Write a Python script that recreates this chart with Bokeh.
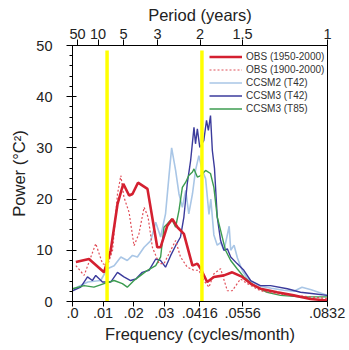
from bokeh.plotting import figure
from bokeh.models import (Range1d, LinearAxis, FixedTicker, SingleIntervalTicker,
                          Legend, LegendItem)
from bokeh.embed import file_html
from bokeh.resources import INLINE

# ---- data ----
obs1950_f = [0.0011, 0.0054, 0.0103, 0.0125, 0.0147, 0.0166, 0.0185, 0.0196, 0.0214, 0.0245,
             0.0277, 0.0288, 0.0310, 0.0326, 0.0343, 0.0364, 0.0392, 0.0408, 0.0419, 0.0440,
             0.0462, 0.0495, 0.0522, 0.0555, 0.0582, 0.0614, 0.0669, 0.0723, 0.0778, 0.0832]
obs1950_v = [7.7, 8.3, 5.7, 10.0, 19.0, 23.0, 20.7, 21.0, 23.2, 22.0,
             10.6, 10.6, 14.8, 16.1, 14.5, 13.2, 7.0, 7.4, 6.4, 3.8,
             4.8, 5.1, 5.7, 4.8, 3.5, 2.5, 1.8, 1.2, 0.5, 0.2]

obs1900_f = [0.0011, 0.0038, 0.0076, 0.0098, 0.0114, 0.0131, 0.0147, 0.0158, 0.0168, 0.0185,
             0.0201, 0.0217, 0.0234, 0.0247, 0.0261, 0.0283, 0.0299, 0.0315, 0.0337, 0.0353,
             0.0375, 0.0397, 0.0413, 0.0429, 0.0446, 0.0462, 0.0484, 0.0506, 0.0522, 0.0549,
             0.0571, 0.0614, 0.0669, 0.0723, 0.0778, 0.0832]
obs1900_v = [7.0, 5.1, 11.3, 7.4, 7.0, 10.0, 21.0, 24.6, 20.4, 17.4,
             10.9, 13.2, 18.4, 16.5, 10.6, 7.4, 7.4, 9.3, 11.9, 8.7,
             6.7, 6.1, 6.1, 4.1, 2.8, 5.4, 6.4, 2.1, 2.1, 4.4,
             3.5, 2.1, 1.5, 1.2, 0.9, 0.6]

ccsm2_f = [0.0005, 0.0050, 0.0092, 0.0114, 0.0136, 0.0158, 0.0179, 0.0196, 0.0212, 0.0234,
           0.0256, 0.0272, 0.0288, 0.0304, 0.0315, 0.0324, 0.0337, 0.0348, 0.0359, 0.0370,
           0.0380, 0.0392, 0.0402, 0.0413, 0.0424, 0.0435, 0.0446, 0.0452, 0.0462, 0.0473,
           0.0484, 0.0495, 0.0506, 0.0512, 0.0517, 0.0528, 0.0539, 0.0555, 0.0571, 0.0588,
           0.0614, 0.0650, 0.0690, 0.0723, 0.0750, 0.0780, 0.0832]
ccsm2_v = [2.5, 3.8, 4.1, 6.4, 7.0, 8.7, 8.0, 9.0, 8.7, 10.6,
           11.9, 15.5, 12.6, 17.1, 24.3, 30.0, 25.6, 21.0, 18.4, 21.7,
           17.1, 21.0, 25.6, 28.5, 25.6, 24.0, 17.0, 20.0, 13.0, 11.0,
           11.5, 10.0, 13.0, 14.7, 10.0, 11.0, 8.5, 6.0, 4.5, 3.8,
           3.0, 2.6, 2.2, 2.0, 2.8, 2.3, 1.2]

ccsm3_t42_f = [0.0000, 0.0027, 0.0049, 0.0065, 0.0076, 0.0098, 0.0125, 0.0147, 0.0168, 0.0190,
               0.0207, 0.0228, 0.0250, 0.0272, 0.0288, 0.0304, 0.0321, 0.0337, 0.0353, 0.0364,
               0.0375, 0.0386, 0.0397, 0.0402, 0.0408, 0.0416, 0.0429, 0.0438, 0.0444, 0.0451,
               0.0457, 0.0464, 0.0473, 0.0484, 0.0495, 0.0506, 0.0517, 0.0538, 0.0560, 0.0582,
               0.0614, 0.0647, 0.0702, 0.0745, 0.0788, 0.0832]
ccsm3_t42_v = [2.1, 2.8, 4.8, 4.1, 5.1, 3.8, 3.8, 5.7, 4.8, 4.1,
               4.4, 5.7, 6.1, 8.3, 8.0, 6.7, 9.0, 10.9, 12.6, 16.5,
               23.0, 27.5, 34.0, 30.8, 33.7, 30.1, 31.4, 35.4, 33.4, 36.3,
               29.5, 26.0, 16.5, 11.9, 10.0, 10.3, 8.7, 7.4, 6.1, 4.1,
               3.1, 3.1, 2.5, 1.8, 1.5, 1.2]

ccsm3_t85_f = [0.0000, 0.0038, 0.0070, 0.0103, 0.0136, 0.0163, 0.0179, 0.0201, 0.0223, 0.0245,
               0.0272, 0.0288, 0.0299, 0.0310, 0.0324, 0.0337, 0.0348, 0.0359, 0.0370, 0.0380,
               0.0392, 0.0397, 0.0408, 0.0419, 0.0435, 0.0451, 0.0462, 0.0473, 0.0484, 0.0500,
               0.0517, 0.0538, 0.0560, 0.0593, 0.0636, 0.0680, 0.0745, 0.0832]
ccsm3_t85_v = [2.5, 3.1, 2.8, 3.5, 4.1, 3.5, 2.8, 4.1, 5.1, 6.1,
               7.0, 8.7, 14.5, 15.2, 16.1, 14.5, 17.8, 22.3, 23.3, 24.6,
               25.3, 25.9, 24.3, 24.6, 25.6, 25.0, 22.3, 16.5, 13.9, 10.0,
               8.0, 6.4, 4.8, 3.1, 1.8, 1.2, 0.9, 0.9]

marker_freqs = [0.0113, 0.0423]

freq_ticks = [0.0, 0.01, 0.02, 0.03, 0.0416, 0.0556, 0.0832]
freq_labels = [".0", ".01", ".02", ".03", ".0416", ".0556", ".0832"]
period_years = [50, 10, 5, 3, 2, 1.5, 1]
period_labels = ["50", "10", "5", "3", "2", "1.5", "1"]

legend_labels = ["OBS (1950-2000)", "OBS (1900-2000)", "CCSM2 (T42)", "CCSM3 (T42)", "CCSM3 (T85)"]

FONT = "Liberation Sans"

p = figure(width=349, height=350, output_backend="svg", toolbar_location=None,
           x_range=Range1d(0, 1.0 / 12.0), y_range=Range1d(0, 50),
           min_border_left=72, min_border_right=22, min_border_top=45, min_border_bottom=49,
           x_axis_location=None, y_axis_location=None)
p.background_fill_color = "white"
p.border_fill_color = "white"
p.outline_line_color = "black"
p.outline_line_width = 1
p.xgrid.visible = False
p.ygrid.visible = False

# bottom axis
xb = LinearAxis(ticker=FixedTicker(ticks=freq_ticks),
                major_label_overrides={t: l for t, l in zip(freq_ticks, freq_labels)},
                axis_label="Frequency (cycles/month)")
# top axis
period_freqs = [1.0 / (12.0 * y) for y in period_years]
xt = LinearAxis(ticker=FixedTicker(ticks=period_freqs),
                major_label_overrides={t: l for t, l in zip(period_freqs, period_labels)},
                axis_label="Period (years)")
# left axis
yl = LinearAxis(ticker=SingleIntervalTicker(interval=10, num_minor_ticks=5),
                axis_label="Power (°C²)")

for ax in (xb, xt, yl):
    ax.axis_line_color = "black"
    ax.major_tick_line_color = "black"
    ax.minor_tick_line_color = "black"
    ax.major_label_text_font = FONT
    ax.major_label_text_font_size = "14.5px"
    ax.major_label_text_color = "#222222"
    ax.axis_label_text_font = FONT
    ax.axis_label_text_font_size = "16.5px"
    ax.axis_label_text_font_style = "normal"
    ax.axis_label_text_color = "#222222"

xb.major_tick_out = 5
xb.major_tick_in = 0
xb.minor_tick_out = 0
xb.minor_tick_in = 0
xb.major_label_standoff = 1
xb.axis_label_standoff = 4

xt.major_tick_out = 6
xt.major_tick_in = 0
xt.minor_tick_out = 0
xt.minor_tick_in = 0
xt.major_label_standoff = 1
xt.axis_label_standoff = 2

yl.major_tick_out = 6
yl.major_tick_in = 4
yl.minor_tick_out = 3
yl.minor_tick_in = 0
yl.major_label_standoff = 14
yl.axis_label_standoff = 5

p.add_layout(xb, "below")
p.add_layout(xt, "above")
p.add_layout(yl, "left")

r_c2 = p.line(ccsm2_f, ccsm2_v, line_color="#a9c6e6", line_width=1.6)
r_c3 = p.line(ccsm3_t42_f, ccsm3_t42_v, line_color="#3b3b9c", line_width=1.4)
r_c85 = p.line(ccsm3_t85_f, ccsm3_t85_v, line_color="#3c9c50", line_width=1.4)
r_o19 = p.line(obs1900_f, obs1900_v, line_color="#e0505a", line_width=1.2, line_dash="2 2")
r_o195 = p.line(obs1950_f, obs1950_v, line_color="#d42030", line_width=2.6)

p.segment(x0=marker_freqs, y0=[-1.5] * len(marker_freqs), x1=marker_freqs,
          y1=[49.0] * len(marker_freqs), line_color="#ffff00", line_width=3.5)

legend = Legend(items=[LegendItem(label=l, renderers=[r]) for l, r in
                       zip(legend_labels, [r_o195, r_o19, r_c2, r_c3, r_c85])],
                location=(137, 186), orientation="vertical",
                border_line_color=None, background_fill_alpha=0,
                padding=0, margin=0, spacing=0,
                glyph_width=33, glyph_height=13, label_height=13, label_standoff=4,
                label_text_font=FONT, label_text_font_size="10px",
                label_text_color="#333333")
p.add_layout(legend, "center")

open("out.html", "w").write(file_html(p, INLINE))
